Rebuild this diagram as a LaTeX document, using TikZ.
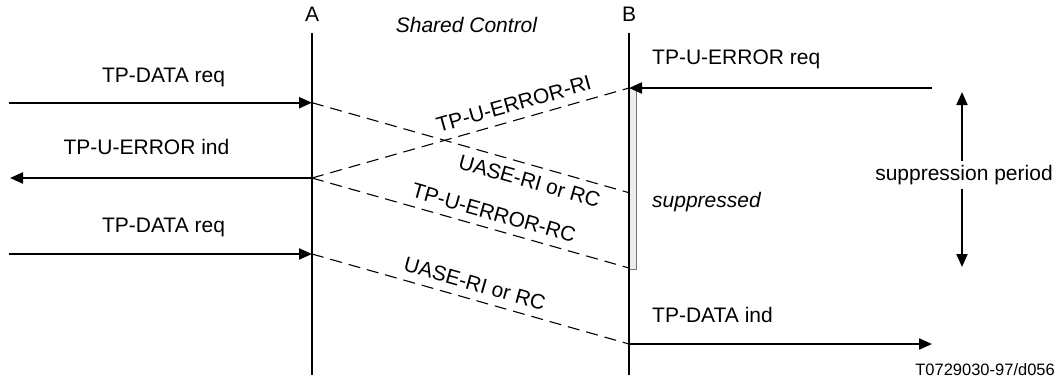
\documentclass[tikz,border=0pt]{standalone}
\usepackage{fontspec}
\setmainfont{Liberation Sans}
\usetikzlibrary{arrows.meta}
\tikzset{
  lifeline/.style={line width=2.2pt},
  msg/.style={line width=2.2pt,-{Triangle[length=13pt,width=11pt]}},
  dmsg/.style={line width=1.1pt,dash pattern=on 12pt off 7pt},
  lbl/.style={font=\fontsize{21}{25}\selectfont,inner sep=0pt},
  ilbl/.style={font=\fontsize{21}{25}\selectfont\itshape,inner sep=0pt},
  slbl/.style={font=\fontsize{16.5}{20}\selectfont,inner sep=0pt},
}
\begin{document}
\begin{tikzpicture}[x=1pt,y=-1pt]
\useasboundingbox (0,0) rectangle (1059,381);
% lifeline heads
\node[lbl,anchor=base] (A) at (312,21) {A};
\node[lbl,anchor=base] (B) at (629,21) {B};
\node[ilbl,anchor=base] (sc) at (466.5,32) {Shared Control};
\coordinate (Atop) at (312,33);
\coordinate (Abot) at (312,375);
\coordinate (Btop) at (629,33);
\coordinate (Bbot) at (629,375);
% suppression bar
\node[draw=black!55,fill=black!7,line width=1pt,minimum width=7pt,minimum height=181pt,inner sep=0pt,anchor=north west] (bar) at (629,88) {};
\draw[lifeline] (Atop) -- (Abot);
\draw[lifeline] (Btop) -- (Bbot);
% event points
\coordinate (A1) at (312,102.7);
\coordinate (A2) at (312,178);
\coordinate (A3) at (312,254);
\coordinate (B1) at (629,88);
\coordinate (B2) at (629,192.7);
\coordinate (B3) at (629,268);
\coordinate (B4) at (629,344);
\coordinate (L1) at (9,102.7);
\coordinate (L2) at (10,178);
\coordinate (L3) at (9,254);
\coordinate (R1) at (932,88);
\coordinate (R4) at (932,344);
% horizontal messages
\draw[msg] (L1) -- (A1);
\draw[msg] (A2) -- (L2);
\draw[msg] (L3) -- (A3);
\draw[msg] (R1) -- (B1);
\draw[msg] (B4) -- (R4);
\node[lbl,anchor=base] (t1) at (163.5,82) {TP-DATA req};
\node[lbl,anchor=base] (t2) at (146.5,154) {TP-U-ERROR ind};
\node[lbl,anchor=base] (t3) at (163.5,232) {TP-DATA req};
\node[lbl,anchor=base west] (t4) at (652,64) {TP-U-ERROR req};
\node[lbl,anchor=base west] (t5) at (652,322) {TP-DATA ind};
\node[ilbl,anchor=base west] (t6) at (652,207) {suppressed};
% dashed messages
\draw[dmsg] (A1) -- (B2) node[lbl,sloped,below=8pt,pos=0.70] {UASE-RI or RC};
\draw[dmsg] (A2) -- (B1) node[lbl,sloped,above=8pt,pos=0.65] {TP-U-ERROR-RI};
\draw[dmsg] (A2) -- (B3) node[lbl,sloped,above=8pt,pos=0.56] {TP-U-ERROR-RC};
\draw[dmsg] (A3) -- (B4) node[lbl,sloped,above=8pt,pos=0.50] {UASE-RI or RC};
% suppression period
\coordinate (P1) at (962,92);
\coordinate (P2) at (962,267);
\draw[line width=2pt,{Triangle[length=13pt,width=11pt]}-{Triangle[length=13pt,width=11pt]}] (P1) -- (P2);
\node[lbl,fill=white,inner sep=4pt] (sp) at (964,175) {suppression period};
% footer
\node[slbl,anchor=base east] (ft) at (1055,375) {T0729030-97/d056};
\end{tikzpicture}
\end{document}
